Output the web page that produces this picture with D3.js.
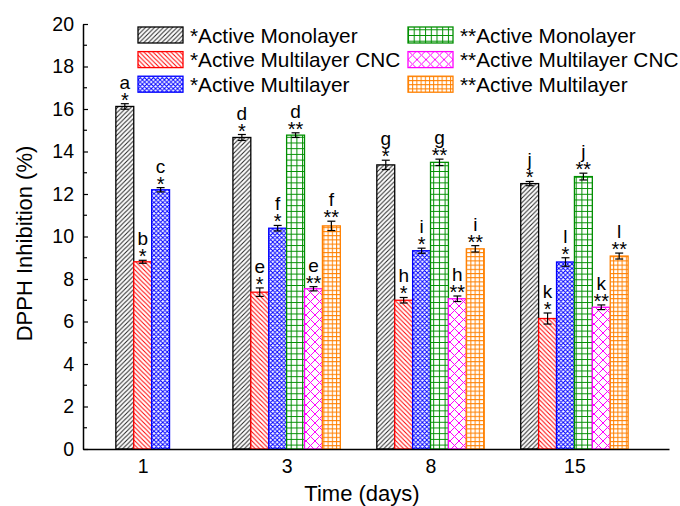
<!DOCTYPE html>
<html>
<head>
<meta charset="utf-8">
<script src="https://cdn.jsdelivr.net/npm/d3@7"></script>
<style>
  body { margin: 0; background: #fff; }
  svg { display: block; }
  text { font-family: "Liberation Sans", Arial, sans-serif; fill: #000; }
</style>
</head>
<body>
<script>
// data
var days = ["1", "3", "8", "15"];
var seriesNames = ["*Active Monolayer", "*Active Multilayer CNC", "*Active Multilayer",
                   "**Active Monolayer", "**Active Multilayer CNC", "**Active Multilayer"];
var monoA  = [16.12, 14.66, 13.37, 12.49];
var cncA   = [8.81, 7.38, 7.00, 6.14];
var multiA = [12.20, 10.39, 9.33, 8.80];
var monoB  = [null, 14.77, 13.49, 12.82];
var cncB   = [null, 7.54, 7.07, 6.67];
var multiB = [null, 10.50, 9.42, 9.08];
var monoAErr  = [0.13, 0.14, 0.22, 0.10];
var cncAErr   = [0.07, 0.20, 0.13, 0.26];
var multiAErr = [0.10, 0.13, 0.12, 0.20];
var monoBErr  = [null, 0.11, 0.15, 0.16];
var cncBErr   = [null, 0.10, 0.13, 0.11];
var multiBErr = [null, 0.22, 0.15, 0.14];
var monoALetters  = ["a", "d", "g", "j"];
var cncALetters   = ["b", "e", "h", "k"];
var multiALetters = ["c", "f", "i", "l"];
var monoBLetters  = [null, "d", "g", "j"];
var cncBLetters   = [null, "e", "h", "k"];
var multiBLetters = [null, "f", "i", "l"];
var yTicks = d3.range(0, 21, 2);
var yMinorTicks = d3.range(1, 20, 2);

var values  = [monoA, cncA, multiA, monoB, cncB, multiB];
var errors  = [monoAErr, cncAErr, multiAErr, monoBErr, cncBErr, multiBErr];
var letters = [monoALetters, cncALetters, multiALetters, monoBLetters, cncBLetters, multiBLetters];

var colors = ["#000000", "#ff0000", "#0000ff", "#008f00", "#ff00ff", "#ff8000"];

var width = 680, height = 506;
var plotLeft = 83, plotRight = 669, plotTop = 24, plotBottom = 449;
var barW = 17.9;

var svg = d3.select("body").append("svg")
    .attr("width", width)
    .attr("height", height);

// fill patterns
var defs = svg.append("defs");
function pattern(id, size, color, d, sw) {
    var p = defs.append("pattern")
        .attr("id", id)
        .attr("patternUnits", "userSpaceOnUse")
        .attr("width", size)
        .attr("height", size);
    p.append("rect").attr("width", size).attr("height", size).attr("fill", "#fff");
    p.append("path").attr("d", d).attr("stroke", color).attr("stroke-width", sw).attr("fill", "none");
}
function fwd(s) { return "M0," + s + "L" + s + ",0M-1,1L1,-1M" + (s - 1) + "," + (s + 1) + "L" + (s + 1) + "," + (s - 1); }
function back(s) { return "M0,0L" + s + "," + s + "M-1," + (s - 1) + "L1," + (s + 1) + "M" + (s - 1) + ",-1L" + (s + 1) + ",1"; }
function grid(s) { return "M0,0.5L" + s + ",0.5M0.5,0L0.5," + s; }
pattern("p0", 4.5, "#222", fwd(4.5), 1);
pattern("p1", 4.5, colors[1], back(4.5), 1);
pattern("p2", 4.4, colors[2], fwd(4.4) + back(4.4), 1);
pattern("p3", 5.7, colors[3], grid(5.7), 1);
pattern("p4", 9, colors[4], fwd(9) + back(9), 1);
pattern("p5", 4.2, colors[5], grid(4.2), 1);

var x = d3.scalePoint().domain(days).range([plotLeft, plotRight]).padding(0.536).align(0.387);
var y = d3.scaleLinear().domain([0, 20]).range([plotBottom, plotTop]);

// bars
var bars = [];
days.forEach(function (day, di) {
    var present = d3.range(values.length).filter(function (si) { return values[si][di] != null; });
    present.forEach(function (si, j) {
        bars.push({
            series: si,
            x0: x(day) - present.length * barW / 2 + j * barW,
            v: values[si][di],
            e: errors[si][di],
            letter: letters[si][di],
            stars: seriesNames[si].match(/^\*+/)[0]
        });
    });
});

var g = svg.append("g");
g.selectAll("rect.bar").data(bars).enter().append("rect")
    .attr("class", "bar")
    .attr("x", function (d) { return d.x0; })
    .attr("y", function (d) { return y(d.v); })
    .attr("width", barW)
    .attr("height", function (d) { return y(0) - y(d.v); })
    .attr("fill", function (d) { return "url(#p" + d.series + ")"; })
    .attr("stroke", function (d) { return colors[d.series]; })
    .attr("stroke-width", 1.3);

var err = g.selectAll("g.err").data(bars).enter().append("g")
    .attr("stroke", "#000").attr("stroke-width", 1.2);
err.append("line")
    .attr("x1", function (d) { return d.x0 + barW / 2; })
    .attr("x2", function (d) { return d.x0 + barW / 2; })
    .attr("y1", function (d) { return y(d.v - d.e); })
    .attr("y2", function (d) { return y(d.v + d.e); });
[-1, 1].forEach(function (s) {
    err.append("line")
        .attr("x1", function (d) { return d.x0 + barW / 2 - 4; })
        .attr("x2", function (d) { return d.x0 + barW / 2 + 4; })
        .attr("y1", function (d) { return y(d.v + s * d.e); })
        .attr("y2", function (d) { return y(d.v + s * d.e); });
});

g.selectAll("text.star").data(bars).enter().append("text")
    .attr("class", "star")
    .attr("x", function (d) { return d.x0 + barW / 2; })
    .attr("y", function (d) { return y(d.v + d.e) + 3; })
    .attr("text-anchor", "middle")
    .style("font-size", "20px")
    .text(function (d) { return d.stars; });
g.selectAll("text.letter").data(bars).enter().append("text")
    .attr("class", "letter")
    .attr("x", function (d) { return d.x0 + barW / 2; })
    .attr("y", function (d) { return y(d.v + d.e) - 15; })
    .attr("text-anchor", "middle")
    .style("font-size", "19px")
    .text(function (d) { return d.letter; });

// axes
var xAxis = svg.append("g")
    .attr("transform", "translate(0," + plotBottom + ")")
    .call(d3.axisBottom(x).tickSize(0).tickPadding(10).tickSizeOuter(0));
xAxis.select(".domain").attr("stroke-width", 1.5);
xAxis.selectAll("text").style("font-size", "19.5px").attr("font-family", null);

var yAxis = svg.append("g")
    .attr("transform", "translate(" + plotLeft + ",0)")
    .call(d3.axisLeft(y).tickValues(yTicks).tickSizeInner(-5).tickSizeOuter(0).tickPadding(9));
yAxis.select(".domain").attr("stroke-width", 1.5);
yAxis.selectAll("text").style("font-size", "19.5px").attr("font-family", null);
yAxis.selectAll("line").attr("stroke-width", 1.2);
yAxis.selectAll("line.minor").data(yMinorTicks).enter().append("line")
    .attr("class", "minor")
    .attr("x1", 0).attr("x2", 4)
    .attr("y1", function (d) { return y(d); })
    .attr("y2", function (d) { return y(d); })
    .attr("stroke", "#000").attr("stroke-width", 1.2);

svg.append("text")
    .attr("transform", "translate(32," + ((plotTop + plotBottom) / 2 + 7) + ") rotate(-90)")
    .attr("text-anchor", "middle")
    .style("font-size", "22px")
    .text("DPPH Inhibition (%)");
svg.append("text")
    .attr("x", 362)
    .attr("y", 501)
    .attr("text-anchor", "middle")
    .style("font-size", "22px")
    .text("Time (days)");

// legend
var legend = svg.append("g").selectAll("g").data(seriesNames).enter().append("g")
    .attr("transform", function (d, i) {
        return "translate(" + (i < 3 ? 138 : 408) + "," + (35 + (i % 3) * 24.6) + ")";
    });
legend.append("rect")
    .attr("x", 0).attr("y", -8)
    .attr("width", 45).attr("height", 16)
    .attr("fill", function (d, i) { return "url(#p" + i + ")"; })
    .attr("stroke", function (d, i) { return colors[i]; })
    .attr("stroke-width", 1.3);
legend.append("text")
    .attr("x", 52)
    .attr("y", 7.5)
    .style("font-size", "20.8px")
    .text(function (d) { return d; });
</script>
</body>
</html>
